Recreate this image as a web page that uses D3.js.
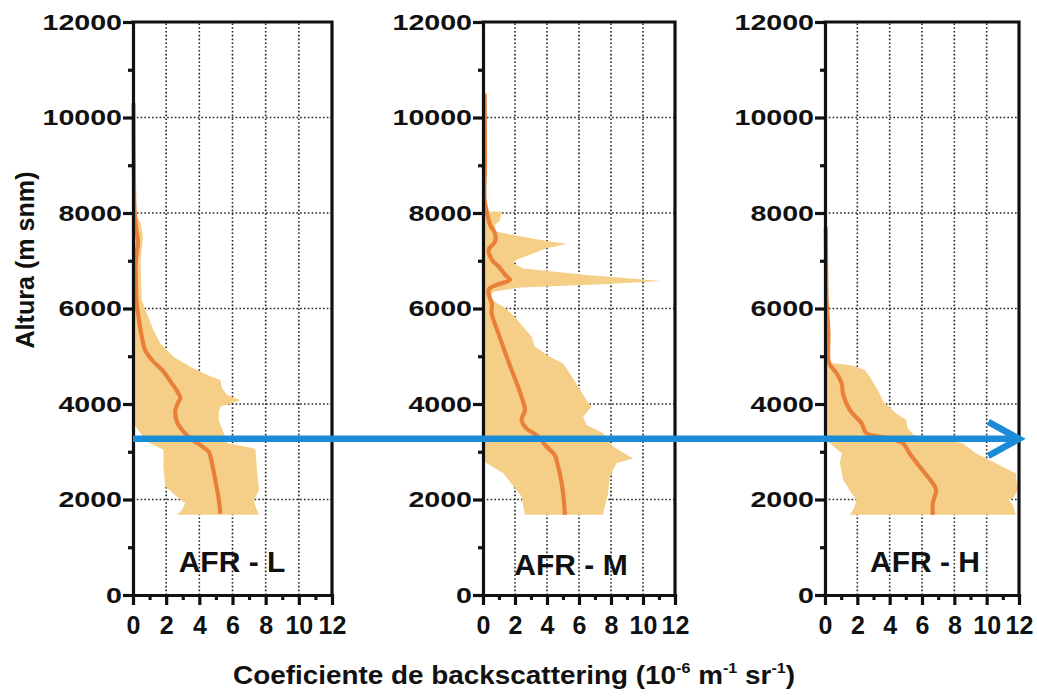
<!DOCTYPE html>
<html><head><meta charset="utf-8">
<script src="https://cdn.jsdelivr.net/npm/d3@7"></script>
<style>
body{margin:0;background:#fff}
svg{display:block}
text{font-family:"Liberation Sans",Arial,sans-serif;font-weight:bold;fill:#111}
</style>
</head><body>
<svg id="c" width="1037" height="699"></svg>
<script>
// ---------------- data ----------------
const panelNames = ["AFR - L", "AFR - M", "AFR - H"];
const xTicks = [0, 2, 4, 6, 8, 10, 12];
const xMinorTicks = [1, 3, 5, 7, 9, 11];
const yTicks = [0, 2000, 4000, 6000, 8000, 10000, 12000];
const yMinorTicks = [1000, 3000, 5000, 7000, 9000, 11000];
const xGrid = [2, 4, 6, 8, 10];
const yGrid = [2000, 4000, 6000, 8000, 10000];
const arrowAltitude = 3270;

// AFR - L
const meanAltL = [10300, 9000, 8000, 7600, 7400, 7000, 6500, 6110, 5760, 5410, 5130, 4890, 4680, 4430, 4330, 4120, 4050, 3870, 3630, 3420, 3280, 3140, 3000, 2900, 2400, 2000, 1700];
const meanValL = [0.03, 0.05, 0.1, 0.22, 0.3, 0.17, 0.18, 0.22, 0.36, 0.53, 0.73, 1.23, 1.84, 2.34, 2.55, 2.85, 2.75, 2.55, 2.65, 3.05, 3.45, 4.06, 4.57, 4.67, 4.97, 5.17, 5.27];
const hiAltL = [10300, 9000, 8000, 7800, 7500, 7000, 6500, 6180, 5900, 5550, 5270, 4990, 4780, 4610, 4500, 4330, 4190, 4080, 3940, 3840, 3665, 3390, 3180, 3080, 3040, 2550, 2200, 1990, 1850, 1680];
const hiValL = [0.05, 0.08, 0.12, 0.45, 0.6, 0.45, 0.5, 0.53, 0.83, 1.23, 1.64, 2.44, 3.45, 4.46, 5.27, 5.37, 5.68, 6.48, 5.27, 5.17, 5.17, 5.47, 5.68, 7.2, 7.39, 7.49, 7.6, 7.29, 7.39, 7.6];
const loAltL = [10300, 3600, 3210, 3040, 2690, 2270, 2060, 1920, 1780, 1680];
const loValL = [0, 0, 0.83, 1.84, 1.84, 1.94, 2.65, 3.15, 2.95, 2.65];

// AFR - M
const meanAltM = [10500, 9000, 8270, 8000, 7750, 7570, 7400, 7230, 7000, 6880, 6700, 6600, 6500, 6400, 6250, 6100, 5900, 5480, 4990, 4710, 4150, 3870, 3665, 3490, 3320, 3110, 2930, 2760, 2550, 2130, 1680];
const meanValM = [0.1, 0.12, 0.1, 0.25, 0.45, 0.75, 0.75, 0.35, 0.6, 0.98, 1.4, 1.68, 0.9, 0.35, 0.4, 0.55, 0.54, 0.96, 1.48, 1.79, 2.41, 2.62, 2.41, 2.72, 3.45, 3.97, 4.49, 4.64, 4.8, 5.01, 5.12];
const hiAltM = [8030, 7850, 7750, 7610, 7450, 7350, 7260, 7020, 6950, 6840, 6700, 6575, 6510, 6440, 6350, 6250, 6110, 6040, 5860, 5620, 5410, 5200, 4990, 4850, 4640, 4360, 4080, 3940, 3735, 3560, 3390, 3110, 2860, 2760, 2480, 2130, 1850, 1680];
const hiValM = [1.17, 1.06, 0.75, 0.8, 3.35, 5.22, 3.97, 2.1, 1.89, 2.51, 6.47, 11.15, 7.51, 2.31, 0.64, 0.44, 0.85, 1.27, 1.89, 2.51, 3.04, 3.24, 4.18, 5.01, 5.43, 5.95, 6.47, 6.78, 6.26, 6.47, 7.51, 8.13, 9.38, 8.34, 7.92, 7.82, 7.61, 7.51];
const loAltM = [8030, 2830, 2760, 2550, 2200, 2060, 1680];
const loValM = [0, 0, 0.23, 1.27, 2.1, 2.41, 2.62];

// AFR - H
const meanAltH = [7700, 6500, 6180, 5480, 4920, 4820, 4640, 4430, 4190, 3870, 3600, 3390, 3280, 3180, 2970, 2690, 2340, 2200, 1920, 1680];
const meanValH = [0.05, 0.08, 0.1, 0.21, 0.21, 0.31, 0.72, 1.03, 1.13, 1.54, 2.26, 2.56, 4.0, 4.82, 5.23, 5.85, 6.67, 6.87, 6.67, 6.67];
const hiAltH = [4870, 4840, 4800, 4710, 4570, 4220, 4050, 3800, 3665, 3500, 3350, 3280, 3180, 2970, 2760, 2550, 2200, 2050, 1990, 1900, 1680];
const hiValH = [0.1, 1.0, 1.74, 2.46, 2.77, 3.38, 3.59, 4.41, 5.03, 5.1, 5.5, 7.0, 8.51, 9.33, 10.56, 11.8, 11.9, 11.7, 11.38, 11.6, 11.8];
const loAltH = [4870, 3250, 3180, 2970, 2760, 2410, 2130, 1990, 1820, 1680];
const loValH = [0, 0, 0.31, 1.03, 0.92, 1.13, 1.64, 1.95, 1.8, 1.54];

// ---------------- layout ----------------
const panels = [
  {name: panelNames[0], meanAlt: meanAltL, meanVal: meanValL, hiAlt: hiAltL, hiVal: hiValL, loAlt: loAltL, loVal: loValL, left: 133, right: 332, lx: 232, ly: 572},
  {name: panelNames[1], meanAlt: meanAltM, meanVal: meanValM, hiAlt: hiAltM, hiVal: hiValM, loAlt: loAltM, loVal: loValM, left: 483, right: 675, lx: 571, ly: 575},
  {name: panelNames[2], meanAlt: meanAltH, meanVal: meanValH, hiAlt: hiAltH, hiVal: hiValH, loAlt: loAltH, loVal: loValH, left: 825, right: 1019, lx: 925, ly: 572}
];
const plotTop = 22, plotBottom = 595;
const AX = "#111", BAND = "#F5CF87", LINE = "#E8803A", BLUE = "#1A8BD6";

const svg = d3.select("#c");
const y = d3.scaleLinear().domain([0, 12000]).range([plotBottom, plotTop]);
const xs = [];

panels.forEach(p => {
  const x = d3.scaleLinear().domain([0, 12]).range([p.left, p.right]);
  xs.push(x);
  const g = svg.append("g");

  // grid
  g.selectAll(".vg").data(xGrid).join("line")
    .attr("x1", d => x(d)).attr("x2", d => x(d))
    .attr("y1", y(0)).attr("y2", y(12000))
    .attr("stroke", "#222").attr("stroke-width", 1.6).attr("stroke-dasharray", "1.6,2.2");
  g.selectAll(".hg").data(yGrid).join("line")
    .attr("x1", x(0)).attr("x2", x(12))
    .attr("y1", d => y(d)).attr("y2", d => y(d))
    .attr("stroke", "#222").attr("stroke-width", 1.6).attr("stroke-dasharray", "1.6,2.2");

  // band
  const pts = p.hiAlt.map((a, k) => [p.hiVal[k], a])
    .concat(p.loAlt.map((a, k) => [p.loVal[k], a]).reverse());
  g.append("path")
    .attr("d", d3.line().x(d => x(d[0])).y(d => y(d[1])).curve(d3.curveLinearClosed)(pts))
    .attr("fill", BAND).attr("stroke", "none");

  // mean line
  const mpts = p.meanAlt.map((a, k) => [p.meanVal[k], a]);
  g.append("path")
    .attr("d", d3.line().x(d => x(d[0])).y(d => y(d[1])).curve(d3.curveCatmullRom.alpha(0.5))(mpts))
    .attr("fill", "none").attr("stroke", LINE).attr("stroke-width", 4.2).attr("stroke-linejoin", "round");

  // frame (top, right)
  g.append("path")
    .attr("d", `M${x(0)},${y(12000)}H${x(12)}V${y(0)}`)
    .attr("fill", "none").attr("stroke", AX).attr("stroke-width", 3.2).attr("stroke-linecap", "square");

  // y axis
  const ya = g.append("g").attr("transform", `translate(${x(0)},0)`)
    .call(d3.axisLeft(y).tickValues(yTicks).tickSize(10).tickPadding(1).tickSizeOuter(0).tickFormat(d3.format("d")));
  ya.select(".domain").attr("stroke", AX).attr("stroke-width", 3.2).attr("stroke-linecap", "square");
  ya.selectAll(".tick line").attr("stroke", AX).attr("stroke-width", 3.2);
  ya.selectAll(".tick text").attr("font-size", 22).attr("font-family", null)
    .attr("x", -11 / 1.3).attr("transform", "scale(1.3,1)").attr("dy", "0.34em").attr("fill", "#111");
  const yam = g.append("g").attr("transform", `translate(${x(0)},0)`)
    .call(d3.axisLeft(y).tickValues(yMinorTicks).tickSize(5).tickFormat(""));
  yam.select(".domain").remove();
  yam.selectAll(".tick line").attr("stroke", AX).attr("stroke-width", 3.2);

  // x axis
  const xa = g.append("g").attr("transform", `translate(0,${y(0)})`)
    .call(d3.axisBottom(x).tickValues(xTicks).tickSize(10).tickPadding(11).tickSizeOuter(0));
  xa.select(".domain").attr("stroke", AX).attr("stroke-width", 3.2).attr("stroke-linecap", "square");
  xa.selectAll(".tick line").attr("stroke", AX).attr("stroke-width", 3.2);
  xa.selectAll(".tick text").attr("font-size", 25).attr("font-family", null).attr("fill", "#111");
  const xam = g.append("g").attr("transform", `translate(0,${y(0)})`)
    .call(d3.axisBottom(x).tickValues(xMinorTicks).tickSize(5).tickFormat(""));
  xam.select(".domain").remove();
  xam.selectAll(".tick line").attr("stroke", AX).attr("stroke-width", 3.2);

  // panel label
  g.append("text").attr("x", p.lx).attr("y", p.ly).attr("text-anchor", "middle")
    .attr("font-size", 30).text(p.name);
});

// blue arrow across panels
const ay = y(arrowAltitude);
const ax0 = xs[0](0), ax1 = xs[2](12), axh = xs[2](10.1);
svg.append("line").attr("x1", ax0).attr("x2", ax1 - 3).attr("y1", ay).attr("y2", ay)
  .attr("stroke", BLUE).attr("stroke-width", 6.5);
svg.append("path").attr("d", `M${axh},${ay - 17}L${ax1},${ay}L${axh},${ay + 17}`)
  .attr("fill", "none").attr("stroke", BLUE).attr("stroke-width", 6.5).attr("stroke-linejoin", "miter").attr("stroke-miterlimit", 10);

// axis titles
svg.append("text").attr("transform", "translate(34,260) rotate(-90)")
  .attr("text-anchor", "middle").attr("font-size", 26).attr("textLength", 177).attr("lengthAdjust", "spacingAndGlyphs")
  .text("Altura (m snm)");

const xt = svg.append("text").attr("x", 233).attr("y", 684).attr("text-anchor", "start").attr("font-size", 26)
  .attr("textLength", 562).attr("lengthAdjust", "spacingAndGlyphs");
xt.append("tspan").text("Coeficiente de backscattering (10");
xt.append("tspan").attr("font-size", 15).attr("dy", -11).text("-6");
xt.append("tspan").attr("dy", 11).text(" m");
xt.append("tspan").attr("font-size", 15).attr("dy", -11).text("-1");
xt.append("tspan").attr("dy", 11).text(" sr");
xt.append("tspan").attr("font-size", 15).attr("dy", -11).text("-1");
xt.append("tspan").attr("dy", 11).text(")");
</script>
</body></html>
